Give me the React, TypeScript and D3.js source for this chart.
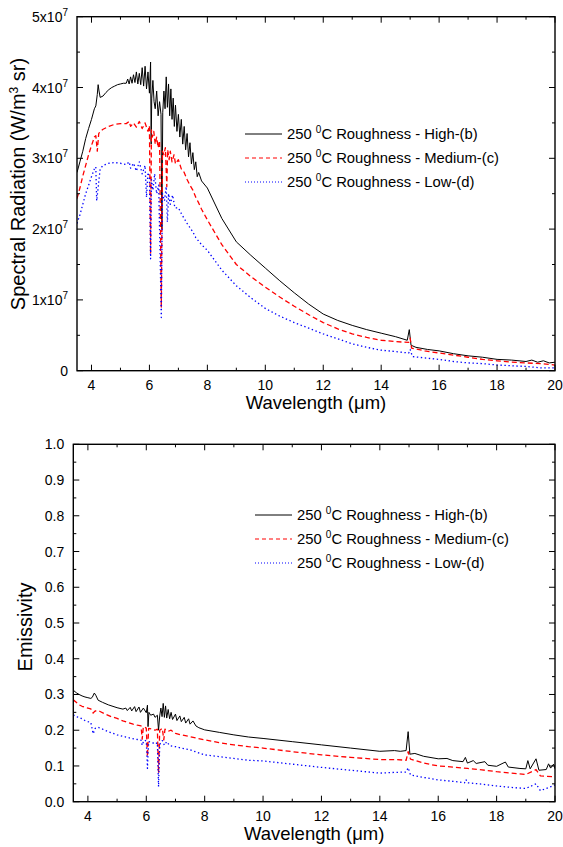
import React from "react";
import * as d3 from "d3";

type Pt = [number, number];

// wavelength (µm) vs spectral radiation (x1e7 W/m3 sr)
const radHigh: Pt[] = [
  [3.5, 2.8], [3.6, 2.95], [3.7, 3.1], [3.8, 3.28], [3.9, 3.42], [4.0, 3.55], [4.1, 3.7], [4.15, 3.74],
  [4.2, 3.9], [4.23, 4.04], [4.26, 3.95], [4.3, 3.86], [4.4, 3.88], [4.5, 3.93], [4.6, 3.97], [4.7, 4.0],
  [4.8, 4.02], [4.9, 4.04], [5.0, 4.05], [5.1, 4.06], [5.2, 4.06], [5.25, 4.12], [5.3, 4.05], [5.35, 4.15],
  [5.4, 4.06], [5.45, 4.18], [5.5, 4.07], [5.55, 4.22], [5.6, 4.05], [5.65, 4.2], [5.7, 4.04], [5.75, 4.28],
  [5.8, 4.02], [5.85, 4.3], [5.9, 3.98], [5.95, 4.22], [6.0, 3.92], [6.04, 4.36], [6.06, 3.2], [6.08, 3.85],
  [6.12, 4.1], [6.16, 3.8], [6.2, 3.7], [6.25, 3.95], [6.3, 3.6], [6.35, 3.8], [6.4, 3.62], [6.43, 2.0],
  [6.46, 3.65], [6.5, 3.95], [6.54, 3.7], [6.58, 4.15], [6.62, 3.72], [6.66, 4.05], [6.7, 3.6], [6.74, 3.98],
  [6.78, 3.55], [6.82, 3.85], [6.86, 3.45], [6.9, 3.75], [6.95, 3.38], [7.0, 3.62], [7.05, 3.3], [7.1, 3.55],
  [7.15, 3.2], [7.2, 3.45], [7.25, 3.12], [7.3, 3.35], [7.35, 3.02], [7.4, 3.22], [7.45, 2.92], [7.5, 3.08],
  [7.55, 2.84], [7.6, 2.95], [7.65, 2.74], [7.7, 2.8], [7.8, 2.68], [8.0, 2.58], [8.5, 2.15], [9.0, 1.82],
  [9.5, 1.63], [10.0, 1.45], [10.5, 1.27], [11.0, 1.1], [11.5, 0.94], [12.0, 0.8], [12.5, 0.71], [13.0, 0.64],
  [13.5, 0.58], [14.0, 0.53], [14.5, 0.48], [14.9, 0.43], [14.97, 0.58], [15.03, 0.36], [15.2, 0.33], [15.6, 0.3],
  [16.0, 0.28], [16.5, 0.24], [17.0, 0.21], [17.5, 0.19], [18.0, 0.16], [18.5, 0.15], [19.0, 0.13], [19.2, 0.15],
  [19.4, 0.12], [19.6, 0.14], [19.8, 0.11], [20.0, 0.12],
];

const radMedium: Pt[] = [
  [3.5, 2.43], [3.6, 2.58], [3.7, 2.75], [3.8, 2.9], [3.9, 3.05], [4.0, 3.18], [4.1, 3.3], [4.15, 3.32],
  [4.2, 3.1], [4.25, 3.35], [4.3, 3.38], [4.4, 3.41], [4.6, 3.45], [4.8, 3.48], [5.0, 3.49], [5.2, 3.49],
  [5.3, 3.52], [5.35, 3.45], [5.45, 3.5], [5.55, 3.44], [5.65, 3.52], [5.75, 3.42], [5.85, 3.5], [5.95, 3.38],
  [6.0, 3.46], [6.04, 1.65], [6.07, 3.4], [6.1, 3.3], [6.15, 3.38], [6.2, 3.2], [6.25, 3.3], [6.3, 3.15],
  [6.35, 3.25], [6.41, 0.9], [6.45, 3.1], [6.5, 3.05], [6.55, 3.15], [6.6, 2.6], [6.63, 3.12], [6.68, 2.98],
  [6.72, 3.1], [6.78, 2.95], [6.85, 3.05], [6.9, 2.92], [7.0, 2.98], [7.1, 2.85], [7.2, 2.8], [7.3, 2.7],
  [7.4, 2.62], [7.5, 2.55], [7.6, 2.45], [7.7, 2.37], [7.8, 2.28], [8.0, 2.13], [8.5, 1.78], [9.0, 1.5],
  [9.5, 1.33], [10.0, 1.18], [10.5, 1.04], [11.0, 0.91], [11.5, 0.79], [12.0, 0.68], [12.5, 0.59], [13.0, 0.52],
  [13.5, 0.47], [14.0, 0.43], [14.5, 0.41], [14.95, 0.4], [15.0, 0.46], [15.05, 0.32], [15.5, 0.28], [16.0, 0.25],
  [16.5, 0.22], [17.0, 0.19], [17.5, 0.16], [18.0, 0.14], [18.5, 0.12], [19.0, 0.11], [19.5, 0.1], [20.0, 0.08],
];

const radLow: Pt[] = [
  [3.5, 2.08], [3.6, 2.2], [3.7, 2.35], [3.8, 2.5], [3.9, 2.62], [4.0, 2.74], [4.1, 2.85], [4.15, 2.88],
  [4.18, 2.4], [4.22, 2.55], [4.3, 2.85], [4.4, 2.9], [4.6, 2.93], [4.8, 2.94], [5.0, 2.93], [5.2, 2.91],
  [5.3, 2.95], [5.35, 2.86], [5.45, 2.93], [5.55, 2.82], [5.65, 2.95], [5.75, 2.78], [5.85, 2.9], [5.9, 2.45],
  [5.95, 2.8], [6.0, 2.72], [6.04, 1.58], [6.07, 2.7], [6.12, 2.55], [6.18, 2.78], [6.25, 2.5], [6.32, 2.62],
  [6.41, 0.75], [6.45, 2.5], [6.52, 2.4], [6.58, 2.6], [6.62, 2.1], [6.66, 2.5], [6.72, 2.35], [6.8, 2.48],
  [6.88, 2.3], [7.0, 2.3], [7.1, 2.22], [7.2, 2.15], [7.3, 2.08], [7.4, 2.02], [7.5, 1.96], [7.6, 1.88],
  [7.8, 1.78], [8.0, 1.7], [8.5, 1.42], [9.0, 1.2], [9.5, 1.03], [10.0, 0.88], [10.5, 0.77], [11.0, 0.68],
  [11.5, 0.6], [12.0, 0.52], [12.5, 0.45], [13.0, 0.38], [13.5, 0.33], [14.0, 0.29], [14.5, 0.27], [14.95, 0.25],
  [15.0, 0.3], [15.08, 0.2], [15.5, 0.18], [16.0, 0.16], [16.5, 0.13], [17.0, 0.11], [17.5, 0.1], [18.0, 0.08],
  [18.5, 0.07], [19.0, 0.06], [19.5, 0.04], [20.0, 0.04],
];

// wavelength (µm) vs emissivity, bottom plot
const emHigh: Pt[] = [
  [3.5, 0.312], [3.6, 0.305], [3.7, 0.3], [3.8, 0.296], [3.9, 0.293], [4.0, 0.291], [4.1, 0.289], [4.15, 0.292],
  [4.22, 0.304], [4.27, 0.298], [4.35, 0.284], [4.5, 0.278], [4.7, 0.271], [5.0, 0.263], [5.2, 0.259], [5.3, 0.262],
  [5.35, 0.255], [5.45, 0.264], [5.5, 0.254], [5.6, 0.266], [5.65, 0.252], [5.75, 0.265], [5.8, 0.25], [5.9, 0.262],
  [6.0, 0.249], [6.04, 0.27], [6.06, 0.21], [6.09, 0.25], [6.15, 0.242], [6.25, 0.245], [6.3, 0.236], [6.38, 0.242],
  [6.42, 0.2], [6.46, 0.24], [6.5, 0.262], [6.54, 0.238], [6.58, 0.275], [6.62, 0.236], [6.66, 0.268], [6.7, 0.234],
  [6.75, 0.258], [6.8, 0.232], [6.85, 0.25], [6.9, 0.23], [7.0, 0.245], [7.05, 0.227], [7.15, 0.24], [7.2, 0.224],
  [7.3, 0.236], [7.35, 0.22], [7.45, 0.232], [7.5, 0.217], [7.6, 0.226], [7.7, 0.212], [7.8, 0.207], [8.0, 0.201],
  [8.5, 0.194], [9.0, 0.187], [9.5, 0.181], [10.0, 0.177], [11.0, 0.168], [12.0, 0.159], [13.0, 0.15], [14.0, 0.141],
  [14.5, 0.143], [14.7, 0.141], [14.9, 0.143], [14.97, 0.196], [15.03, 0.133], [15.2, 0.135], [15.5, 0.127], [16.0, 0.12],
  [16.3, 0.121], [16.5, 0.115], [16.85, 0.112], [16.93, 0.124], [17.0, 0.108], [17.2, 0.115], [17.3, 0.107], [17.6, 0.112],
  [17.7, 0.102], [18.0, 0.099], [18.3, 0.111], [18.4, 0.097], [18.8, 0.093], [19.0, 0.092], [19.07, 0.115], [19.15, 0.092],
  [19.35, 0.12], [19.45, 0.088], [19.7, 0.09], [19.78, 0.106], [19.85, 0.094], [19.95, 0.105], [20.0, 0.092],
];

const emMedium: Pt[] = [
  [3.5, 0.285], [3.6, 0.278], [3.7, 0.271], [3.8, 0.267], [3.9, 0.264], [4.0, 0.262], [4.1, 0.26], [4.18, 0.248],
  [4.25, 0.254], [4.4, 0.253], [4.6, 0.245], [4.8, 0.238], [5.0, 0.233], [5.2, 0.226], [5.4, 0.221], [5.55, 0.217],
  [5.7, 0.214], [5.82, 0.212], [5.86, 0.175], [5.9, 0.21], [6.0, 0.206], [6.04, 0.126], [6.08, 0.205], [6.2, 0.203],
  [6.3, 0.2], [6.38, 0.203], [6.42, 0.08], [6.46, 0.2], [6.55, 0.205], [6.6, 0.173], [6.64, 0.203], [6.75, 0.197],
  [6.85, 0.2], [7.0, 0.191], [7.2, 0.187], [7.5, 0.182], [8.0, 0.173], [8.5, 0.165], [9.0, 0.159], [9.5, 0.154],
  [10.0, 0.15], [11.0, 0.14], [12.0, 0.131], [13.0, 0.124], [14.0, 0.118], [14.5, 0.118], [14.9, 0.116], [14.97, 0.14],
  [15.05, 0.119], [15.5, 0.108], [16.0, 0.1], [16.5, 0.097], [17.0, 0.093], [17.5, 0.089], [18.0, 0.084], [18.5, 0.08],
  [19.0, 0.076], [19.35, 0.09], [19.5, 0.072], [20.0, 0.07],
];

const emLow: Pt[] = [
  [3.5, 0.243], [3.6, 0.238], [3.7, 0.236], [3.8, 0.232], [3.9, 0.227], [4.0, 0.224], [4.1, 0.222], [4.18, 0.19],
  [4.25, 0.205], [4.35, 0.208], [4.5, 0.203], [4.7, 0.196], [5.0, 0.187], [5.3, 0.181], [5.5, 0.177], [5.7, 0.174],
  [5.82, 0.172], [5.86, 0.158], [5.92, 0.172], [6.0, 0.17], [6.04, 0.093], [6.08, 0.168], [6.2, 0.166], [6.3, 0.161],
  [6.38, 0.165], [6.42, 0.042], [6.46, 0.16], [6.55, 0.171], [6.62, 0.158], [6.7, 0.168], [6.8, 0.157], [7.0, 0.154],
  [7.2, 0.15], [7.5, 0.145], [8.0, 0.131], [8.5, 0.126], [9.0, 0.121], [9.5, 0.116], [10.0, 0.114], [11.0, 0.105],
  [12.0, 0.096], [13.0, 0.088], [14.0, 0.08], [14.5, 0.082], [14.9, 0.083], [14.97, 0.095], [15.05, 0.075], [15.5, 0.068],
  [16.0, 0.061], [16.5, 0.057], [16.9, 0.053], [16.95, 0.062], [17.0, 0.053], [17.5, 0.049], [18.0, 0.044], [18.5, 0.04],
  [19.0, 0.037], [19.35, 0.05], [19.5, 0.031], [19.8, 0.04], [20.0, 0.047],
];

const legendNames = ["Roughness - High-(b)", "Roughness - Medium-(c)", "Roughness - Low-(d)"];
const colors = ["#000000", "#ff0000", "#0000ff"];
const dashes = ["none", "5,3", "1.4,2.6"];
const waveDomain = [3.5, 20];

const FONT = "'Liberation Sans', Arial, sans-serif";

function Panel(props: any) {
  const { left, right, top, bottom, yMax, yStep, series, fmt, legendX, legendY, yTitle, yTitleX, yTitleY } = props;
  const x = d3.scaleLinear().domain(waveDomain).range([left, right]);
  const y = d3.scaleLinear().domain([0, yMax]).range([bottom, top]);
  const line = d3.line<Pt>().x((d) => x(d[0])).y((d) => y(d[1]));

  const xMajor = d3.range(4, 20.001, 2);
  const xMinor = d3.range(5, 20, 2);
  const yMajor = d3.range(0, yMax + yStep / 10, yStep);
  const yMinor = d3.range(yStep / 2, yMax, yStep);
  const clipId = "clip" + Math.round(top);

  return (
    <g fontFamily={FONT}>
      <defs>
        <clipPath id={clipId}>
          <rect x={left} y={top} width={right - left} height={bottom - top} />
        </clipPath>
      </defs>
      <g clipPath={`url(#${clipId})`} fill="none">
        {series.map((s: Pt[], i: number) => (
          <path key={i} d={line(s) || ""} stroke={colors[i]} strokeWidth={i === 0 ? 1 : 1.3}
            strokeDasharray={dashes[i]} strokeLinejoin="round" />
        ))}
      </g>
      <g stroke="#000" strokeWidth={1}>
        {xMajor.map((v) => (
          <g key={"xM" + v}>
            <line x1={x(v)} x2={x(v)} y1={bottom} y2={bottom - 6} />
            <line x1={x(v)} x2={x(v)} y1={top} y2={top + 6} />
          </g>
        ))}
        {xMinor.map((v) => (
          <g key={"xm" + v}>
            <line x1={x(v)} x2={x(v)} y1={bottom} y2={bottom - 3} />
            <line x1={x(v)} x2={x(v)} y1={top} y2={top + 3} />
          </g>
        ))}
        {yMajor.map((v) => (
          <g key={"yM" + v}>
            <line x1={left} x2={left + 6} y1={y(v)} y2={y(v)} />
            <line x1={right} x2={right - 6} y1={y(v)} y2={y(v)} />
          </g>
        ))}
        {yMinor.map((v) => (
          <g key={"ym" + v}>
            <line x1={left} x2={left + 3} y1={y(v)} y2={y(v)} />
            <line x1={right} x2={right - 3} y1={y(v)} y2={y(v)} />
          </g>
        ))}
      </g>
      <rect x={left} y={top} width={right - left} height={bottom - top} fill="none" stroke="#000" strokeWidth={1.4} />
      <g fontSize={14} fill="#000">
        {xMajor.map((v) => (
          <text key={"xl" + v} x={x(v)} y={bottom + 19} textAnchor="middle">{v}</text>
        ))}
        {yMajor.map((v) => (
          <text key={"yl" + v} x={left - 9} y={y(v) + 5} textAnchor="end">{fmt(v)}</text>
        ))}
      </g>
      <text x={(left + right) / 2} y={bottom + 38} fontSize={18.5} textAnchor="middle">Wavelength (μm)</text>
      <text transform={`translate(${yTitleX},${yTitleY}) rotate(-90)`} fontSize={20} textAnchor="middle">{yTitle}</text>
      {legendNames.map((name, i) => (
        <g key={name} transform={`translate(${legendX},${legendY + i * 24})`}>
          <line x1={0} x2={37} y1={0} y2={0} stroke={colors[i]} strokeWidth={1} strokeDasharray={dashes[i] === "none" ? "none" : i === 1 ? "4,3" : "1,2"} />
          <text x={42} y={5} fontSize={14.8}>
            250 <tspan dy={-6} fontSize={10}>0</tspan><tspan dy={6}>C {name}</tspan>
          </text>
        </g>
      ))}
    </g>
  );
}

export default function App() {
  const radFmt = (v: number) =>
    v === 0 ? "0" : (<>{v}x10<tspan dy={-6} fontSize={10}>7</tspan></>);
  const emFmt = (v: number) => v.toFixed(1);
  return (
    <svg width={563} height={847} style={{ position: "absolute", left: 0, top: 0, background: "#fff" }}>
      <rect width={563} height={847} fill="#fff" />
      <Panel left={77} right={555} top={16.7} bottom={370.7} yMax={5} yStep={1}
        series={[radHigh, radMedium, radLow]} fmt={radFmt}
        legendX={245} legendY={134}
        yTitleX={25} yTitleY={184}
        yTitle={<>Spectral Radiation (W/m<tspan dy={-7} fontSize={12}>3</tspan><tspan dy={7}> sr)</tspan></>} />
      <Panel left={73.3} right={555} top={444.3} bottom={801.7} yMax={1} yStep={0.1}
        series={[emHigh, emMedium, emLow]} fmt={emFmt}
        legendX={255} legendY={515}
        yTitleX={32} yTitleY={627}
        yTitle="Emissivity" />
    </svg>
  );
}
